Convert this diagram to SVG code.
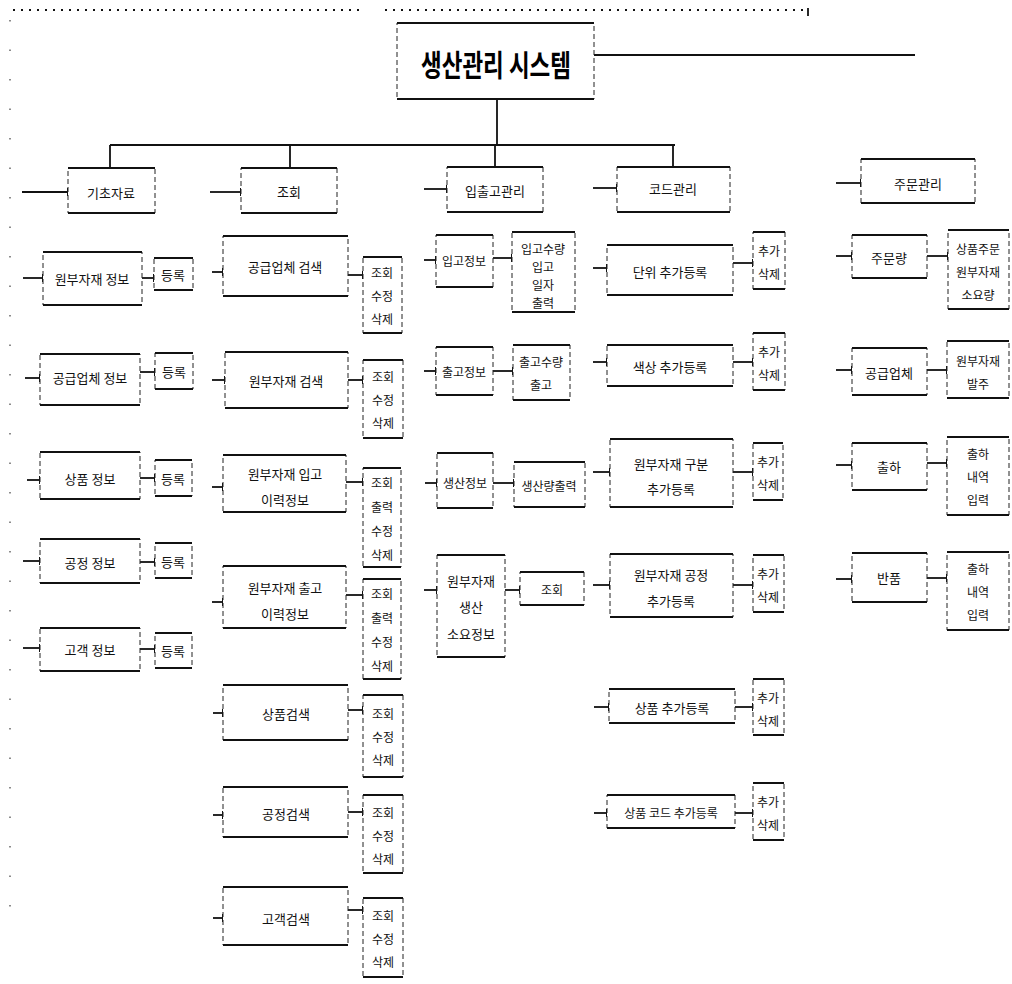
<svg xmlns="http://www.w3.org/2000/svg" width="1012" height="984" viewBox="0 0 1012 984">
<style>
.sd{fill:#fff;stroke:#222;stroke-width:1;stroke-dasharray:5 3}
.tb{fill:none;stroke:#111;stroke-width:2.2}
.ln{fill:none;stroke:#111;stroke-width:1.8;marker-end:url(#bar)}
.pl{fill:none;stroke:#111;stroke-width:1.8}
.t{font-family:"Noto Sans CJK KR","Noto Sans",sans-serif;font-size:13px;fill:#111;text-anchor:middle;dominant-baseline:central}
.s{font-size:12px}
.ttl{font-family:"Noto Sans CJK KR","Noto Sans",sans-serif;font-size:30px;font-weight:bold;fill:#000;text-anchor:middle;dominant-baseline:central}
</style>
<defs>
<marker id="bar" viewBox="0 0 2 8" refX="1" refY="4" markerWidth="2" markerHeight="8" markerUnits="userSpaceOnUse" orient="auto"><rect x="0" y="0" width="2" height="8" fill="#111"/></marker>
</defs>
<rect width="1012" height="984" fill="#fff"/>
<g id="connectors">
<path d="M13 10H365M385 10H808" fill="none" stroke="#111" stroke-width="2.2" stroke-dasharray="2 6"/>
<path d="M808 8V16" class="pl"/>
<path d="M10 20V930" fill="none" stroke="#666" stroke-width="1.5" stroke-dasharray="1.5 28"/>
<path d="M594 55H915" class="pl"/>
<path d="M497 99V145M110 145H675M110 145V168M290 145V168M495 145V167M673 145V167" class="pl"/>
<path class="ln" d="M22 192H68"/><path class="ln" d="M23 278H43"/><path class="ln" d="M142 278H154"/>
<path class="ln" d="M25 378H40"/><path class="ln" d="M140 372H155"/>
<path class="ln" d="M27 480H40"/><path class="ln" d="M140 478H155"/>
<path class="ln" d="M23 561H40"/><path class="ln" d="M140 562H155"/>
<path class="ln" d="M23 648H40"/><path class="ln" d="M140 649H155"/>
<path class="ln" d="M210 192H241"/>
<path class="ln" d="M212 272H223"/><path class="ln" d="M348 275H363"/>
<path class="ln" d="M212 380H225"/><path class="ln" d="M348 380H363"/>
<path class="ln" d="M212 487H223"/><path class="ln" d="M346 482H363"/>
<path class="ln" d="M212 602H223"/><path class="ln" d="M346 595H363"/>
<path class="ln" d="M213 713H223"/><path class="ln" d="M348 710H363"/>
<path class="ln" d="M213 815H223"/><path class="ln" d="M348 812H363"/>
<path class="ln" d="M213 918H223"/><path class="ln" d="M348 910H363"/>
<path class="ln" d="M424 189H447"/>
<path class="ln" d="M424 260H436"/><path class="ln" d="M493 258H512"/>
<path class="ln" d="M424 371H436"/><path class="ln" d="M493 371H513"/>
<path class="ln" d="M425 483H437"/><path class="ln" d="M493 483H514"/>
<path class="ln" d="M424 590H437"/><path class="ln" d="M505 590H520"/>
<path class="ln" d="M593 188H617"/>
<path class="ln" d="M593 268H607"/><path class="ln" d="M733 263H753"/>
<path class="ln" d="M593 362H607"/><path class="ln" d="M733 362H753"/>
<path class="ln" d="M593 472H610"/><path class="ln" d="M733 472H753"/>
<path class="ln" d="M593 585H610"/><path class="ln" d="M733 585H753"/>
<path class="ln" d="M594 707H609"/><path class="ln" d="M735 707H753"/>
<path class="ln" d="M594 813H607"/><path class="ln" d="M735 813H753"/>
<path class="ln" d="M836 183H861"/>
<path class="ln" d="M836 256H852"/><path class="ln" d="M927 256H948"/>
<path class="ln" d="M836 370H852"/><path class="ln" d="M927 370H947"/>
<path class="ln" d="M836 465H852"/><path class="ln" d="M927 463H947"/>
<path class="ln" d="M836 579H852"/><path class="ln" d="M927 578H947"/>
</g>
<g id="title"><rect class="sd" x="397" y="23" width="197" height="76"/><path class="tb" d="M397 23h197M397 99h197"/><text class="ttl" x="496" y="63" textLength="150" lengthAdjust="spacingAndGlyphs">생산관리 시스템</text></g>

<g id="h1"><rect class="sd" x="68" y="168" width="87" height="45"/><path class="tb" d="M68 168h87M68 213h87"/><text class="t" x="111" y="192">기초자료</text></g>
<g id="c1r1"><rect class="sd" x="43" y="252" width="99" height="53"/><path class="tb" d="M43 252h99M43 305h99"/><text class="t" x="92" y="278">원부자재 정보</text></g>
<g id="c1r1b"><rect class="sd" x="154" y="258" width="39" height="32"/><path class="tb" d="M154 258h39M154 290h39"/><text class="t" x="173" y="274">등록</text></g>
<g id="c1r2"><rect class="sd" x="40" y="354" width="100" height="51"/><path class="tb" d="M40 354h100M40 405h100"/><text class="t" x="90" y="377">공급업체 정보</text></g>
<g id="c1r2b"><rect class="sd" x="155" y="353" width="38" height="36"/><path class="tb" d="M155 353h38M155 389h38"/><text class="t" x="174" y="371">등록</text></g>
<g id="c1r3"><rect class="sd" x="40" y="452" width="100" height="47"/><path class="tb" d="M40 452h100M40 499h100"/><text class="t" x="90" y="478">상품 정보</text></g>
<g id="c1r3b"><rect class="sd" x="155" y="460" width="37" height="36"/><path class="tb" d="M155 460h37M155 496h37"/><text class="t" x="173" y="478">등록</text></g>
<g id="c1r4"><rect class="sd" x="40" y="539" width="100" height="44"/><path class="tb" d="M40 539h100M40 583h100"/><text class="t" x="90" y="562">공정 정보</text></g>
<g id="c1r4b"><rect class="sd" x="155" y="543" width="37" height="35"/><path class="tb" d="M155 543h37M155 578h37"/><text class="t" x="173" y="561">등록</text></g>
<g id="c1r5"><rect class="sd" x="40" y="628" width="100" height="43"/><path class="tb" d="M40 628h100M40 671h100"/><text class="t" x="90" y="649">고객 정보</text></g>
<g id="c1r5b"><rect class="sd" x="155" y="633" width="37" height="35"/><path class="tb" d="M155 633h37M155 668h37"/><text class="t" x="173" y="650">등록</text></g>

<g id="h2"><rect class="sd" x="241" y="168" width="96" height="45"/><path class="tb" d="M241 168h96M241 213h96"/><text class="t" x="289" y="191">조회</text></g>
<g id="c2r1"><rect class="sd" x="223" y="236" width="125" height="60"/><path class="tb" d="M223 236h125M223 296h125"/><text class="t" x="285" y="266">공급업체 검색</text></g>
<g id="c2r1b"><rect class="sd" x="363" y="257" width="39" height="76"/><path class="tb" d="M363 257h39M363 333h39"/><text class="t s" x="382" y="272">조회</text><text class="t s" x="382" y="295">수정</text><text class="t s" x="382" y="318">삭제</text></g>
<g id="c2r2"><rect class="sd" x="225" y="352" width="123" height="56"/><path class="tb" d="M225 352h123M225 408h123"/><text class="t" x="286" y="380">원부자재 검색</text></g>
<g id="c2r2b"><rect class="sd" x="363" y="360" width="40" height="78"/><path class="tb" d="M363 360h40M363 438h40"/><text class="t s" x="383" y="376">조회</text><text class="t s" x="383" y="399">수정</text><text class="t s" x="383" y="422">삭제</text></g>
<g id="c2r3"><rect class="sd" x="223" y="455" width="123" height="57"/><path class="tb" d="M223 455h123M223 512h123"/><text class="t" x="285" y="473">원부자재 입고</text><text class="t" x="285" y="499">이력정보</text></g>
<g id="c2r3b"><rect class="sd" x="363" y="468" width="38" height="99"/><path class="tb" d="M363 468h38M363 567h38"/><text class="t s" x="382" y="482">조회</text><text class="t s" x="382" y="506">출력</text><text class="t s" x="382" y="530">수정</text><text class="t s" x="382" y="554">삭제</text></g>
<g id="c2r4"><rect class="sd" x="223" y="566" width="123" height="62"/><path class="tb" d="M223 566h123M223 628h123"/><text class="t" x="285" y="587">원부자재 출고</text><text class="t" x="285" y="613">이력정보</text></g>
<g id="c2r4b"><rect class="sd" x="363" y="579" width="38" height="100"/><path class="tb" d="M363 579h38M363 679h38"/><text class="t s" x="382" y="593">조회</text><text class="t s" x="382" y="617">출력</text><text class="t s" x="382" y="641">수정</text><text class="t s" x="382" y="665">삭제</text></g>
<g id="c2r5"><rect class="sd" x="223" y="685" width="125" height="55"/><path class="tb" d="M223 685h125M223 740h125"/><text class="t" x="286" y="713">상품검색</text></g>
<g id="c2r5b"><rect class="sd" x="363" y="695" width="40" height="82"/><path class="tb" d="M363 695h40M363 777h40"/><text class="t s" x="383" y="713">조회</text><text class="t s" x="383" y="736">수정</text><text class="t s" x="383" y="759">삭제</text></g>
<g id="c2r6"><rect class="sd" x="223" y="787" width="125" height="50"/><path class="tb" d="M223 787h125M223 837h125"/><text class="t" x="286" y="813">공정검색</text></g>
<g id="c2r6b"><rect class="sd" x="363" y="795" width="40" height="78"/><path class="tb" d="M363 795h40M363 873h40"/><text class="t s" x="383" y="812">조회</text><text class="t s" x="383" y="835">수정</text><text class="t s" x="383" y="858">삭제</text></g>
<g id="c2r7"><rect class="sd" x="223" y="887" width="125" height="58"/><path class="tb" d="M223 887h125M223 945h125"/><text class="t" x="286" y="918">고객검색</text></g>
<g id="c2r7b"><rect class="sd" x="363" y="898" width="40" height="79"/><path class="tb" d="M363 898h40M363 977h40"/><text class="t s" x="383" y="915">조회</text><text class="t s" x="383" y="938">수정</text><text class="t s" x="383" y="961">삭제</text></g>

<g id="h3"><rect class="sd" x="447" y="167" width="96" height="45"/><path class="tb" d="M447 167h96M447 212h96"/><text class="t" x="495" y="190">입출고관리</text></g>
<g id="c3r1"><rect class="sd" x="436" y="235" width="57" height="52"/><path class="tb" d="M436 235h57M436 287h57"/><text class="t s" x="464" y="260">입고정보</text></g>
<g id="c3r1b"><rect class="sd" x="512" y="232" width="63" height="80"/><path class="tb" d="M512 232h63M512 312h63"/><text class="t s" x="543" y="248">입고수량</text><text class="t s" x="543" y="266">입고</text><text class="t s" x="543" y="284">일자</text><text class="t s" x="543" y="302">출력</text></g>
<g id="c3r2"><rect class="sd" x="436" y="347" width="57" height="48"/><path class="tb" d="M436 347h57M436 395h57"/><text class="t s" x="464" y="371">출고정보</text></g>
<g id="c3r2b"><rect class="sd" x="513" y="345" width="57" height="55"/><path class="tb" d="M513 345h57M513 400h57"/><text class="t s" x="541" y="361">출고수량</text><text class="t s" x="541" y="384">출고</text></g>
<g id="c3r3"><rect class="sd" x="437" y="453" width="56" height="55"/><path class="tb" d="M437 453h56M437 508h56"/><text class="t s" x="465" y="482">생산정보</text></g>
<g id="c3r3b"><rect class="sd" x="514" y="462" width="71" height="45"/><path class="tb" d="M514 462h71M514 507h71"/><text class="t s" x="549" y="485">생산량출력</text></g>
<g id="c3r4"><rect class="sd" x="437" y="555" width="68" height="102"/><path class="tb" d="M437 555h68M437 657h68"/><text class="t" x="471" y="580">원부자재</text><text class="t" x="471" y="606">생산</text><text class="t" x="471" y="633">소요정보</text></g>
<g id="c3r4b"><rect class="sd" x="520" y="572" width="64" height="33"/><path class="tb" d="M520 572h64M520 605h64"/><text class="t s" x="552" y="589">조회</text></g>

<g id="h4"><rect class="sd" x="617" y="167" width="113" height="45"/><path class="tb" d="M617 167h113M617 212h113"/><text class="t" x="673" y="188">코드관리</text></g>
<g id="c4r1"><rect class="sd" x="607" y="245" width="126" height="50"/><path class="tb" d="M607 245h126M607 295h126"/><text class="t" x="670" y="271">단위 추가등록</text></g>
<g id="c4r1b"><rect class="sd" x="753" y="232" width="32" height="57"/><path class="tb" d="M753 232h32M753 289h32"/><text class="t s" x="769" y="250">추가</text><text class="t s" x="769" y="273">삭제</text></g>
<g id="c4r2"><rect class="sd" x="607" y="345" width="126" height="41"/><path class="tb" d="M607 345h126M607 386h126"/><text class="t" x="670" y="366">색상 추가등록</text></g>
<g id="c4r2b"><rect class="sd" x="753" y="333" width="32" height="57"/><path class="tb" d="M753 333h32M753 390h32"/><text class="t s" x="769" y="351">추가</text><text class="t s" x="769" y="374">삭제</text></g>
<g id="c4r3"><rect class="sd" x="610" y="439" width="123" height="68"/><path class="tb" d="M610 439h123M610 507h123"/><text class="t" x="671" y="463">원부자재 구분</text><text class="t" x="671" y="488">추가등록</text></g>
<g id="c4r3b"><rect class="sd" x="753" y="443" width="30" height="57"/><path class="tb" d="M753 443h30M753 500h30"/><text class="t s" x="768" y="461">추가</text><text class="t s" x="768" y="484">삭제</text></g>
<g id="c4r4"><rect class="sd" x="610" y="554" width="123" height="63"/><path class="tb" d="M610 554h123M610 617h123"/><text class="t" x="671" y="574">원부자재 공정</text><text class="t" x="671" y="600">추가등록</text></g>
<g id="c4r4b"><rect class="sd" x="753" y="555" width="31" height="57"/><path class="tb" d="M753 555h31M753 612h31"/><text class="t s" x="768" y="573">추가</text><text class="t s" x="768" y="596">삭제</text></g>
<g id="c4r5"><rect class="sd" x="609" y="689" width="126" height="34"/><path class="tb" d="M609 689h126M609 723h126"/><text class="t" x="672" y="707">상품 추가등록</text></g>
<g id="c4r5b"><rect class="sd" x="753" y="679" width="31" height="56"/><path class="tb" d="M753 679h31M753 735h31"/><text class="t s" x="768" y="697">추가</text><text class="t s" x="768" y="720">삭제</text></g>
<g id="c4r6"><rect class="sd" x="607" y="795" width="128" height="33"/><path class="tb" d="M607 795h128M607 828h128"/><text class="t s" x="671" y="812">상품 코드 추가등록</text></g>
<g id="c4r6b"><rect class="sd" x="753" y="783" width="31" height="57"/><path class="tb" d="M753 783h31M753 840h31"/><text class="t s" x="768" y="801">추가</text><text class="t s" x="768" y="824">삭제</text></g>

<g id="h5"><rect class="sd" x="861" y="159" width="114" height="44"/><path class="tb" d="M861 159h114M861 203h114"/><text class="t" x="918" y="183">주문관리</text></g>
<g id="c5r1"><rect class="sd" x="852" y="235" width="75" height="43"/><path class="tb" d="M852 235h75M852 278h75"/><text class="t" x="889" y="257">주문량</text></g>
<g id="c5r1b"><rect class="sd" x="948" y="230" width="61" height="79"/><path class="tb" d="M948 230h61M948 309h61"/><text class="t s" x="978" y="248">상품주문</text><text class="t s" x="978" y="271">원부자재</text><text class="t s" x="978" y="294">소요량</text></g>
<g id="c5r2"><rect class="sd" x="852" y="348" width="75" height="47"/><path class="tb" d="M852 348h75M852 395h75"/><text class="t" x="889" y="372">공급업체</text></g>
<g id="c5r2b"><rect class="sd" x="947" y="341" width="62" height="57"/><path class="tb" d="M947 341h62M947 398h62"/><text class="t s" x="978" y="360">원부자재</text><text class="t s" x="978" y="383">발주</text></g>
<g id="c5r3"><rect class="sd" x="852" y="443" width="75" height="47"/><path class="tb" d="M852 443h75M852 490h75"/><text class="t" x="889" y="466">출하</text></g>
<g id="c5r3b"><rect class="sd" x="947" y="437" width="62" height="78"/><path class="tb" d="M947 437h62M947 515h62"/><text class="t s" x="978" y="453">출하</text><text class="t s" x="978" y="476">내역</text><text class="t s" x="978" y="499">입력</text></g>
<g id="c5r4"><rect class="sd" x="852" y="553" width="75" height="49"/><path class="tb" d="M852 553h75M852 602h75"/><text class="t" x="889" y="577">반품</text></g>
<g id="c5r4b"><rect class="sd" x="947" y="552" width="62" height="78"/><path class="tb" d="M947 552h62M947 630h62"/><text class="t s" x="978" y="568">출하</text><text class="t s" x="978" y="591">내역</text><text class="t s" x="978" y="614">입력</text></g>
</svg>
